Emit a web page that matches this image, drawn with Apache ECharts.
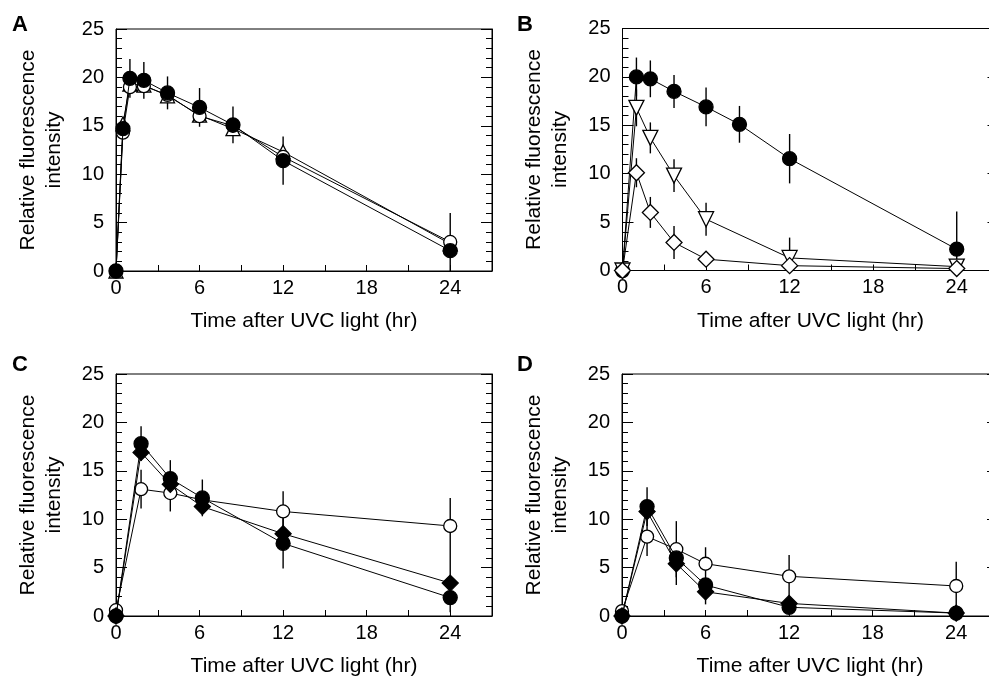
<!DOCTYPE html>
<html>
<head>
<meta charset="utf-8">
<script src="https://cdn.jsdelivr.net/npm/echarts@6/dist/echarts.min.js"></script>
<style>html,body{margin:0;padding:0;background:#fff;}#chart{width:989px;height:678px;}</style>
</head>
<body>
<div id="chart"></div>
<script>
// ---- Data ----
const xTickLabels = [0, 6, 12, 18, 24];
const yTickLabels = [0, 5, 10, 15, 20, 25];

// Panel A
const timesA = [0, 0.5, 1, 2, 3.7, 6, 8.4, 12, 24];
const aFilled = [0, 14.7, 19.9, 19.7, 18.4, 16.9, 15.1, 11.4, 2.1];
const aFilledErr = [0, 0, 2.0, 1.9, 1.7, 2.0, 1.9, 2.5, 3.9];
const aOpen = [0, 14.3, 19.0, 19.1, 18.2, 16.0, 15.0, 11.8, 3.0];
const aTriangle = [0, 15.2, 19.3, 19.2, 18.1, 16.1, 14.7, 12.3, 2.8];

// Panel B
const timesB1 = [0, 1, 2, 3.7, 6, 8.4, 12, 24];
const bFilled = [0, 20.0, 19.8, 18.5, 16.9, 15.1, 11.55, 2.2];
const bFilledErr = [0, 2.0, 1.9, 1.7, 2.0, 1.9, 2.55, 3.9];
const timesB2 = [0, 1, 2, 3.7, 6, 12, 24];
const bTriDown = [0, 16.8, 13.7, 9.8, 5.3, 1.3, 0.4];
const bTriDownErr = [0, 1.9, 1.6, 1.7, 1.7, 2.1, 0];
const bDiamond = [0, 10.1, 6.0, 2.9, 1.17, 0.5, 0.2];
const bDiamondErr = [0, 1.5, 1.6, 1.7, 0, 0, 0];

// Panel C
const timesC = [0, 1.8, 3.9, 6.2, 12, 24];
const cFilled = [0, 17.8, 14.2, 12.2, 7.5, 1.9];
const cFilledErr = [0, 1.8, 1.9, 1.9, 2.6, 0];
const cDiamond = [0, 16.9, 13.6, 11.3, 8.5, 3.4];
const cDiamondErr = [0, 0, 0, 0, 0, 3.0];
const cOpen = [0.6, 13.1, 12.7, 12.0, 10.8, 9.3];
const cOpenErr = [0, 2.0, 1.9, 0, 2.1, 2.9];

// Panel D
const timesD = [0, 1.8, 3.9, 6, 12, 24];
const dFilled = [0, 11.3, 6.0, 3.2, 0.9, 0.3];
const dFilledErr = [0, 2.0, 0, 0, 0, 0];
const dDiamond = [0, 10.8, 5.4, 2.5, 1.3, 0.3];
const dDiamondErr = [0, 0, 2.2, 1.3, 0, 0];
const dOpen = [0.5, 8.2, 6.9, 5.4, 4.1, 3.1];
const dOpenErr = [0, 2.0, 2.9, 1.7, 2.2, 2.5];

const panelLetters = ['A', 'B', 'C', 'D'];
const xName = 'Time after UVC light (hr)';
const yName = 'Relative fluorescence\nintensity';

// ---- Build chart ----
const FONT = "'Liberation Sans', Arial, Helvetica, sans-serif";
const grids = [
  {left: 116, top: 29, width: 376, height: 242},
  {left: 622.5, top: 28.5, width: 376, height: 242},
  {left: 116, top: 374, width: 376, height: 242},
  {left: 622, top: 374, width: 376, height: 242}
];
const letterPos = [[12, 14], [517, 14], [12, 354], [517, 354]];

function pairs(t, v) { return t.map((x, i) => [x, v[i]]); }
function errTriples(t, v, e) {
  const out = [];
  t.forEach((x, i) => { if (e[i] > 0) out.push([x, v[i], e[i]]); });
  return out;
}

const xAxes = [], yAxes = [], series = [];
grids.forEach((g, i) => {
  xAxes.push({
    gridIndex: i, type: 'value', min: 0, max: 27, interval: 3,
    axisLine: {show: true, lineStyle: {color: '#000', width: 1}},
    axisTick: {show: true, inside: true, length: 6, lineStyle: {color: '#000', width: 1}},
    axisLabel: {
      color: '#000', fontSize: 20, fontFamily: FONT, margin: 7,
      formatter: v => (xTickLabels.indexOf(v) >= 0 ? String(v) : '')
    },
    splitLine: {show: false},
    name: xName, nameLocation: 'middle', nameGap: 40,
    nameTextStyle: {color: '#000', fontSize: 21, fontFamily: FONT}
  });
  yAxes.push({
    gridIndex: i, type: 'value', min: 0, max: 25, interval: 5, position: 'left',
    axisLine: {show: true, lineStyle: {color: '#000', width: 1}},
    axisTick: {show: true, inside: true, length: 11, lineStyle: {color: '#000', width: 1}},
    minorTick: {show: true, splitNumber: 5, length: 6, lineStyle: {color: '#000', width: 1}},
    axisLabel: {
      color: '#000', fontSize: 20, fontFamily: FONT, margin: 12,
      formatter: v => (yTickLabels.indexOf(v) >= 0 ? String(v) : '')
    },
    splitLine: {show: false}, minorSplitLine: {show: false},
    name: yName, nameLocation: 'middle', nameGap: 49,
    nameTextStyle: {color: '#000', fontSize: 21, fontFamily: FONT, lineHeight: 26}
  });
  yAxes.push({
    gridIndex: i, type: 'value', min: 0, max: 25, interval: 5, position: 'right',
    axisLine: {show: true, lineStyle: {color: '#000', width: 1}},
    axisTick: {show: true, inside: true, length: 11, lineStyle: {color: '#000', width: 1}},
    minorTick: {show: true, splitNumber: 5, length: 6, lineStyle: {color: '#000', width: 1}},
    axisLabel: {show: false},
    splitLine: {show: false}, minorSplitLine: {show: false}
  });
});

function lineSeries(panel, t, v, symbol, filled, size, rotate, z) {
  return {
    type: 'line', xAxisIndex: panel, yAxisIndex: panel * 2,
    data: pairs(t, v), symbol: symbol, symbolSize: size, symbolRotate: rotate || 0,
    showAllSymbol: true, z: z || 3, clip: false,
    lineStyle: {color: '#000', width: 1},
    itemStyle: {color: filled ? '#000' : '#fff', borderColor: '#000', borderWidth: 1.3},
    emphasis: {disabled: true}, animation: false
  };
}
function errSeries(panel, t, v, e) {
  return {
    type: 'custom', xAxisIndex: panel, yAxisIndex: panel * 2, z: 1, clip: false,
    data: errTriples(t, v, e), animation: false,
    renderItem: (params, api) => {
      const x = api.value(0), y = api.value(1), er = api.value(2);
      const p1 = api.coord([x, y + er]);
      const p2 = api.coord([x, Math.max(0, y - er)]);
      return {type: 'line', shape: {x1: p1[0], y1: p1[1], x2: p2[0], y2: p2[1]},
        style: {stroke: '#000', lineWidth: 1.4}};
    }
  };
}

// Panel A
series.push(errSeries(0, timesA, aFilled, aFilledErr));
series.push(lineSeries(0, timesA, aTriangle, 'triangle', false, 14, 0, 3));
series.push(lineSeries(0, timesA, aOpen, 'circle', false, 13, 0, 4));
series.push(lineSeries(0, timesA, aFilled, 'circle', true, 14, 0, 5));
// Panel B
series.push(errSeries(1, timesB1, bFilled, bFilledErr));
series.push(errSeries(1, timesB2, bTriDown, bTriDownErr));
series.push(errSeries(1, timesB2, bDiamond, bDiamondErr));
series.push(lineSeries(1, timesB1, bFilled, 'circle', true, 14, 0, 3));
series.push(lineSeries(1, timesB2, bTriDown, 'triangle', false, 15, 180, 4));
series.push(lineSeries(1, timesB2, bDiamond, 'diamond', false, 16, 0, 5));
// Panel C
series.push(errSeries(2, timesC, cFilled, cFilledErr));
series.push(errSeries(2, timesC, cDiamond, cDiamondErr));
series.push(errSeries(2, timesC, cOpen, cOpenErr));
series.push(lineSeries(2, timesC, cOpen, 'circle', false, 13, 0, 3));
series.push(lineSeries(2, timesC, cDiamond, 'diamond', true, 16, 0, 4));
series.push(lineSeries(2, timesC, cFilled, 'circle', true, 14, 0, 5));
// Panel D
series.push(errSeries(3, timesD, dFilled, dFilledErr));
series.push(errSeries(3, timesD, dDiamond, dDiamondErr));
series.push(errSeries(3, timesD, dOpen, dOpenErr));
series.push(lineSeries(3, timesD, dOpen, 'circle', false, 13, 0, 3));
series.push(lineSeries(3, timesD, dDiamond, 'diamond', true, 16, 0, 4));
series.push(lineSeries(3, timesD, dFilled, 'circle', true, 14, 0, 5));

const option = {
  animation: false,
  backgroundColor: '#fff',
  textStyle: {fontFamily: FONT},
  title: panelLetters.map((L, i) => ({
    text: L, left: letterPos[i][0], top: letterPos[i][1], padding: 0,
    textStyle: {color: '#000', fontSize: 22, fontWeight: 'bold', fontFamily: FONT}
  })),
  grid: grids.map(g => Object.assign({show: true, borderColor: '#000', borderWidth: 1,
    backgroundColor: 'transparent', containLabel: false, outerBoundsMode: 'none'}, g)),
  xAxis: xAxes,
  yAxis: yAxes,
  series: series
};

const chart = echarts.init(document.getElementById('chart'), null, {renderer: 'canvas'});
chart.setOption(option);
</script>
</body>
</html>
